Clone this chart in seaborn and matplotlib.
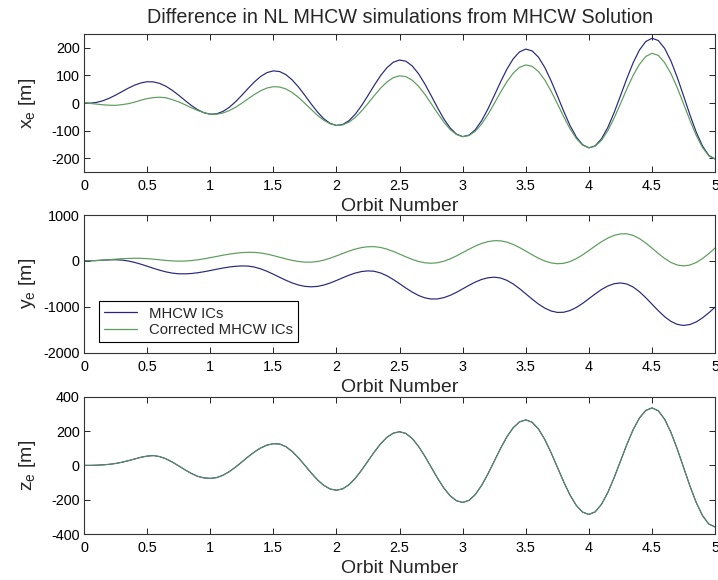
import matplotlib
matplotlib.use("Agg")
import matplotlib.pyplot as plt
import seaborn as sns
from matplotlib.ticker import FixedLocator, FuncFormatter

# Orbit number sampling (0 to 5 orbits, every 0.05 orbit)
orbit = [round(0.05 * i, 2) for i in range(101)]

# Radial difference x_e [m]
x_mhcw = [
    0, -0.5, 2.2, 8.2, 17.2, 28.5, 41.0, 53.5, 64.5, 72.7,
    77.0, 76.5, 70.9, 60.4, 45.7, 28.2, 9.4, -8.7, -24.2, -35.3,
    -40.6, -39.2, -30.8, -15.9, 4.2, 27.9, 52.8, 76.4, 96.3, 110.2,
    116.4, 113.9, 102.6, 83.3, 57.5, 27.6, -3.5, -32.8, -57.2, -73.9,
    -81.2, -77.8, -63.7, -40.1, -8.7, 27.3, 64.6, 99.4, 128.0, 147.6,
    155.8, 151.4, 134.4, 106.2, 69.3, 27.0, -16.5, -56.9, -90.1, -112.6,
    -121.8, -116.5, -96.7, -64.2, -21.7, 26.7, 76.3, 122.3, 159.8, 185.1,
    195.2, 188.8, 166.2, 129.2, 81.0, 26.4, -29.5, -81.1, -123.1, -151.2,
    -162.4, -155.1, -129.7, -88.3, -34.6, 26.1, 88.1, 145.2, 191.6, 222.5,
    234.6, 226.3, 197.9, 152.1, 92.8, 25.8, -42.4, -105.2, -156.0, -189.9,
    -203.0,
]
x_corrected = [
    0, -1.5, -4.0, -6.5, -8.0, -8.5, -6.0, -2.5, 3.0, 10.0,
    16.0, 19.5, 21.0, 19.0, 12.0, 4.0, -6.0, -17.0, -27.0, -35.0,
    -40.6, -40.6, -36.3, -27.7, -15.6, -0.8, 15.3, 30.9, 44.5, 54.3,
    59.1, 58.0, 50.8, 37.8, 20.0, -1.1, -23.3, -44.6, -62.6, -75.3,
    -81.2, -79.2, -69.2, -51.9, -28.5, -1.4, 27.0, 53.9, 76.2, 91.7,
    98.5, 95.5, 82.6, 60.7, 31.8, -1.7, -36.3, -68.7, -95.6, -114.0,
    -121.8, -117.9, -102.2, -76.0, -41.5, -2.0, 38.8, 76.8, 108.0, 129.2,
    137.9, 132.9, 114.3, 83.7, 43.5, -2.3, -49.3, -92.9, -128.5, -152.6,
    -162.4, -156.5, -135.1, -100.1, -54.4, -2.6, 50.6, 99.7, 139.7, 168.5,
    180.0, 172.5, 146.1, 106.6, 55.3, -2.9, -62.2, -117.0, -161.5, -191.3,
    -203.0,
]

# Along-track difference y_e [m]
y_mhcw = [
    0, 2.4, 8.6, 16.4, 22.6, 25.0, 18.2, -1.3, -32.0, -71.1,
    -115.3, -160.7, -203.4, -239.6, -266.1, -280.5, -282.3, -274.4, -258.5, -236.2,
    -209.9, -182.1, -155.8, -133.5, -117.6, -109.7, -112.6, -134.1, -173.3, -226.9,
    -290.0, -357.3, -422.7, -480.6, -526.0, -555.0, -565.0, -554.9, -526.0, -481.5,
    -426.3, -367.3, -311.0, -263.8, -231.4, -217.3, -226.2, -263.2, -324.5, -404.9,
    -496.7, -590.9, -679.0, -752.9, -804.7, -830.5, -828.5, -801.0, -751.5, -685.5,
    -609.5, -532.1, -461.1, -404.5, -367.7, -355.0, -372.3, -423.1, -502.5, -603.3,
    -716.9, -832.0, -939.4, -1028.4, -1091.1, -1122.3, -1118.9, -1081.8, -1015.0, -926.0,
    -823.5, -719.0, -623.2, -546.8, -497.1, -480.0, -502.7, -568.4, -670.8, -799.9,
    -943.0, -1086.1, -1215.2, -1317.6, -1383.3, -1406.0, -1386.4, -1329.8, -1241.6, -1130.3,
    -1007.0,
]
y_corrected = [
    0, 2.0, 7.7, 16.4, 26.8, 37.6, 47.1, 54.1, 57.7, 56.8,
    49.8, 37.9, 23.6, 9.9, -0.3, -4.9, -2.6, 7.1, 23.3, 44.8,
    70.0, 96.9, 123.3, 147.3, 167.0, 180.7, 187.4, 185.7, 172.2, 148.0,
    115.8, 79.5, 43.2, 11.0, -13.2, -26.7, -27.7, -12.8, 17.2, 59.3,
    109.6, 162.8, 214.1, 258.3, 290.9, 308.9, 310.4, 292.6, 256.6, 206.9,
    148.7, 88.4, 32.9, -12.2, -41.0, -51.0, -39.9, -7.4, 43.4, 108.0,
    180.7, 254.4, 323.2, 380.1, 420.3, 440.3, 437.5, 409.5, 359.3, 292.1,
    214.2, 133.8, 59.5, -2.0, -43.6, -61.5, -52.5, -14.8, 48.5, 131.2,
    226.3, 325.0, 418.5, 497.9, 556.3, 588.8, 590.8, 556.4, 486.8, 390.5,
    277.7, 161.0, 53.4, -33.8, -89.7, -109.0, -89.9, -34.6, 51.5, 160.1,
    280.5,
]

# Cross-track difference z_e [m] (both initial-condition sets coincide)
z_mhcw = [
    0, 0, 1, 3, 6, 11, 18, 27, 37, 47,
    54, 57, 51, 38, 19, -3, -26, -47, -64, -73,
    -76, -71.4, -58.0, -37.1, -10.5, 19.4, 49.8, 78.1, 101.5, 118.1,
    126.3, 124.4, 108.8, 80.6, 43.1, -0.2, -44.2, -84.6, -116.8, -137.8,
    -145.0, -136.6, -112.4, -74.8, -27.2, 25.5, 78.2, 125.8, 163.4, 187.6,
    196.0, 185.9, 156.7, 111.1, 53.7, -10.0, -73.7, -131.1, -176.7, -205.9,
    -216.0, -204.2, -170.1, -116.9, -49.8, 24.5, 98.8, 165.9, 219.1, 253.2,
    265.0, 251.5, 212.4, 151.5, 74.6, -10.5, -95.6, -172.5, -233.4, -272.5,
    -286.0, -270.8, -226.7, -158.1, -71.4, 24.5, 120.4, 207.1, 275.7, 319.8,
    335.0, 318.0, 268.7, 192.0, 95.2, -12.0, -119.2, -216.0, -292.7, -342.0,
    -359.0,
]
z_corrected = list(z_mhcw)

series_names = ["MHCW ICs", "Corrected MHCW ICs"]
x_ticks = [0, 0.5, 1, 1.5, 2, 2.5, 3, 3.5, 4, 4.5, 5]
panel_labels = [r"x$_\mathregular{e}$ [m]", r"y$_\mathregular{e}$ [m]", r"z$_\mathregular{e}$ [m]"]
panel_yticks = [[-200, -100, 0, 100, 200], [-2000, -1000, 0, 1000], [-400, -200, 0, 200, 400]]
panel_ylims = [(-250, 250), (-2000, 1000), (-400, 400)]
title = "Difference in NL MHCW simulations from MHCW Solution"

sns.set_theme(style="ticks")
plt.rcParams["font.family"] = ["Liberation Sans", "DejaVu Sans"]
plt.rcParams["mathtext.fontset"] = "custom"
plt.rcParams["mathtext.rm"] = "Liberation Sans"

BLUE = "#26267e"
GREEN = "#5a9c5a"

fig = plt.figure(figsize=(7.18, 5.80), dpi=100)
rects = [
    [0.117, 0.7034, 0.879, 0.238],
    [0.117, 0.3919, 0.879, 0.2374],
    [0.117, 0.0793, 0.879, 0.2367],
]
data = [(x_mhcw, x_corrected), (y_mhcw, y_corrected), (z_mhcw, z_corrected)]

axes = []
for i, rect in enumerate(rects):
    ax = fig.add_axes(rect)
    blue_vals, green_vals = data[i]
    # the corrected curve sits on top; where the two coincide the dark one shows at its edges
    green_lw = 0.65 if i == 2 else 0.85
    sns.lineplot(x=orbit, y=blue_vals, ax=ax, color=BLUE, linewidth=0.85,
                 label=series_names[0], estimator=None, sort=False)
    sns.lineplot(x=orbit, y=green_vals, ax=ax, color=GREEN, linewidth=green_lw,
                 label=series_names[1], estimator=None, sort=False)
    ax.set_xlim(0, 5)
    ax.set_ylim(*panel_ylims[i])
    ax.xaxis.set_major_locator(FixedLocator(x_ticks))
    ax.yaxis.set_major_locator(FixedLocator(panel_yticks[i]))
    fmt = FuncFormatter(lambda v, p: f"{v:g}")
    ax.xaxis.set_major_formatter(fmt)
    ax.yaxis.set_major_formatter(fmt)
    ax.tick_params(direction="in", top=True, right=True, length=4, width=0.7,
                   labelsize=10.4, colors="#222222", labelcolor="black")
    ax.tick_params(axis="x", pad=5)
    ax.tick_params(axis="y", pad=3)
    for sp in ax.spines.values():
        sp.set_visible(True)
        sp.set_color("#333333")
        sp.set_linewidth(0.8)
    ax.set_xlabel("Orbit Number", fontsize=14, labelpad=3.5)
    ax.set_ylabel(panel_labels[i], fontsize=14)
    ax.yaxis.set_label_coords(-0.073, 0.5)
    ax.set_facecolor("white")
    if i == 1:
        leg = ax.legend(loc="lower left", bbox_to_anchor=(0.024, 0.078), borderaxespad=0,
                        fontsize=10.7, frameon=True, fancybox=False, edgecolor="black",
                        framealpha=1, handlelength=2.2, handletextpad=0.8,
                        labelspacing=0.15, borderpad=0.35)
        leg.get_frame().set_linewidth(0.8)
        for h in leg.get_lines():
            h.set_linewidth(0.9)
    else:
        ax.get_legend().remove()
    axes.append(ax)

axes[0].set_title(title, fontsize=14.2, pad=7.7)

fig.savefig("out.png", dpi=100, facecolor="white")
